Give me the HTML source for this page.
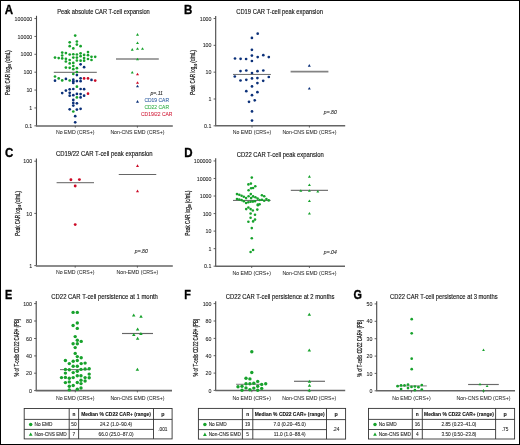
<!DOCTYPE html>
<html><head><meta charset="utf-8"><title>CAR T-cell expansion figure</title>
<style>html,body{margin:0;padding:0;background:#fff;}body{width:520px;height:445px;overflow:hidden;font-family:"Liberation Sans",sans-serif;}svg{display:block;will-change:transform;}</style>
</head><body>
<svg width="520" height="445" viewBox="0 0 520 445" font-family="'Liberation Sans', sans-serif">
<rect x="0" y="0" width="520" height="445" fill="#fff"/>
<text x="4.80" y="13.50" font-size="12.8" text-anchor="start" font-weight="bold" font-style="normal" fill="#000" stroke="#000" stroke-width="0.35" textLength="8.32" lengthAdjust="spacingAndGlyphs" >A</text>
<text x="103.50" y="13.60" font-size="6.4" text-anchor="middle" font-weight="normal" font-style="normal" fill="#111" stroke="#111" stroke-width="0.12" textLength="92.60" lengthAdjust="spacingAndGlyphs" >Peak absolute CAR T-cell expansion</text>
<line x1="36.50" y1="15.80" x2="36.50" y2="125.80" stroke="#474747" stroke-width="1.1"/>
<line x1="34.40" y1="18.55" x2="36.50" y2="18.55" stroke="#474747" stroke-width="0.85"/>
<text x="32.30" y="20.65" font-size="5.9" text-anchor="end" font-weight="normal" font-style="normal" fill="#222" stroke="#222" stroke-width="0.08" textLength="17.72" lengthAdjust="spacingAndGlyphs" >100000</text>
<line x1="34.40" y1="36.43" x2="36.50" y2="36.43" stroke="#474747" stroke-width="0.85"/>
<text x="32.30" y="38.53" font-size="5.9" text-anchor="end" font-weight="normal" font-style="normal" fill="#222" stroke="#222" stroke-width="0.08" textLength="14.76" lengthAdjust="spacingAndGlyphs" >10000</text>
<line x1="34.40" y1="54.31" x2="36.50" y2="54.31" stroke="#474747" stroke-width="0.85"/>
<text x="32.30" y="56.41" font-size="5.9" text-anchor="end" font-weight="normal" font-style="normal" fill="#222" stroke="#222" stroke-width="0.08" textLength="11.81" lengthAdjust="spacingAndGlyphs" >1000</text>
<line x1="34.40" y1="72.19" x2="36.50" y2="72.19" stroke="#474747" stroke-width="0.85"/>
<text x="32.30" y="74.29" font-size="5.9" text-anchor="end" font-weight="normal" font-style="normal" fill="#222" stroke="#222" stroke-width="0.08" textLength="8.86" lengthAdjust="spacingAndGlyphs" >100</text>
<line x1="34.40" y1="90.07" x2="36.50" y2="90.07" stroke="#474747" stroke-width="0.85"/>
<text x="32.30" y="92.17" font-size="5.9" text-anchor="end" font-weight="normal" font-style="normal" fill="#222" stroke="#222" stroke-width="0.08" textLength="5.91" lengthAdjust="spacingAndGlyphs" >10</text>
<line x1="34.40" y1="107.95" x2="36.50" y2="107.95" stroke="#474747" stroke-width="0.85"/>
<text x="32.30" y="110.05" font-size="5.9" text-anchor="end" font-weight="normal" font-style="normal" fill="#222" stroke="#222" stroke-width="0.08" textLength="2.95" lengthAdjust="spacingAndGlyphs" >1</text>
<line x1="34.40" y1="125.83" x2="36.50" y2="125.83" stroke="#474747" stroke-width="0.85"/>
<text x="32.30" y="127.93" font-size="5.9" text-anchor="end" font-weight="normal" font-style="normal" fill="#222" stroke="#222" stroke-width="0.08" textLength="7.38" lengthAdjust="spacingAndGlyphs" >0.1</text>
<line x1="36.00" y1="125.90" x2="172.80" y2="125.90" stroke="#646464" stroke-width="1.55"/>
<line x1="75.30" y1="125.90" x2="75.30" y2="127.70" stroke="#474747" stroke-width="0.8"/>
<text x="75.30" y="134.40" font-size="5.2" text-anchor="middle" font-weight="normal" font-style="normal" fill="#222" stroke="#222" stroke-width="0.03" >No EMD (CRS+)</text>
<line x1="137.40" y1="125.90" x2="137.40" y2="127.70" stroke="#474747" stroke-width="0.8"/>
<text x="137.40" y="134.40" font-size="5.2" text-anchor="middle" font-weight="normal" font-style="normal" fill="#222" stroke="#222" stroke-width="0.03" >Non-CNS EMD (CRS+)</text>
<g transform="translate(10.00,72.60) rotate(-90)">
<text x="-22.40" y="0" font-size="6.3" text-anchor="start" fill="#111" stroke="#111" stroke-width="0.2" textLength="44.8" lengthAdjust="spacingAndGlyphs">Peak CAR log<tspan font-size="3.6" dy="1.2">10</tspan><tspan dy="-1.2"> (c/mL)</tspan></text>
</g>
<line x1="53.80" y1="72.30" x2="96.80" y2="72.30" stroke="#5e5e5e" stroke-width="1.0"/>
<line x1="116.00" y1="59.00" x2="158.80" y2="59.00" stroke="#838383" stroke-width="1.7"/>
<circle cx="75.20" cy="35.60" r="1.35" fill="#17a22c"/>
<circle cx="69.70" cy="42.30" r="1.35" fill="#17a22c"/>
<circle cx="76.90" cy="41.50" r="1.35" fill="#17a22c"/>
<circle cx="76.90" cy="44.60" r="1.35" fill="#17a22c"/>
<circle cx="69.70" cy="46.20" r="1.35" fill="#17a22c"/>
<circle cx="80.60" cy="46.20" r="1.35" fill="#17a22c"/>
<circle cx="73.30" cy="48.40" r="1.35" fill="#17a22c"/>
<circle cx="62.20" cy="52.60" r="1.35" fill="#17a22c"/>
<circle cx="65.90" cy="53.10" r="1.35" fill="#17a22c"/>
<circle cx="69.70" cy="54.50" r="1.35" fill="#17a22c"/>
<circle cx="73.30" cy="54.25" r="1.35" fill="#17a22c"/>
<circle cx="76.90" cy="54.50" r="1.35" fill="#17a22c"/>
<circle cx="80.60" cy="53.30" r="1.35" fill="#17a22c"/>
<circle cx="84.10" cy="54.90" r="1.35" fill="#17a22c"/>
<circle cx="88.00" cy="52.10" r="1.35" fill="#17a22c"/>
<circle cx="62.20" cy="55.50" r="1.35" fill="#17a22c"/>
<circle cx="80.60" cy="56.20" r="1.35" fill="#17a22c"/>
<circle cx="88.00" cy="55.20" r="1.35" fill="#17a22c"/>
<circle cx="91.50" cy="56.80" r="1.35" fill="#17a22c"/>
<circle cx="95.20" cy="56.80" r="1.35" fill="#17a22c"/>
<circle cx="55.00" cy="57.60" r="1.35" fill="#17a22c"/>
<circle cx="58.70" cy="58.10" r="1.35" fill="#17a22c"/>
<circle cx="62.20" cy="58.40" r="1.35" fill="#17a22c"/>
<circle cx="65.90" cy="58.80" r="1.35" fill="#17a22c"/>
<circle cx="73.30" cy="57.60" r="1.35" fill="#17a22c"/>
<circle cx="76.90" cy="57.60" r="1.35" fill="#17a22c"/>
<circle cx="84.10" cy="58.10" r="1.35" fill="#17a22c"/>
<circle cx="88.00" cy="59.00" r="1.35" fill="#17a22c"/>
<circle cx="91.50" cy="60.00" r="1.35" fill="#17a22c"/>
<circle cx="65.90" cy="61.50" r="1.35" fill="#17a22c"/>
<circle cx="69.70" cy="60.00" r="1.35" fill="#17a22c"/>
<circle cx="76.90" cy="60.50" r="1.35" fill="#17a22c"/>
<circle cx="80.60" cy="60.70" r="1.35" fill="#17a22c"/>
<circle cx="84.10" cy="60.70" r="1.35" fill="#17a22c"/>
<circle cx="69.70" cy="63.40" r="1.35" fill="#17a22c"/>
<circle cx="73.30" cy="62.90" r="1.35" fill="#17a22c"/>
<circle cx="73.30" cy="66.00" r="1.35" fill="#17a22c"/>
<circle cx="65.90" cy="67.60" r="1.35" fill="#17a22c"/>
<circle cx="69.70" cy="67.80" r="1.35" fill="#17a22c"/>
<circle cx="76.90" cy="68.20" r="1.35" fill="#17a22c"/>
<circle cx="73.30" cy="69.20" r="1.35" fill="#17a22c"/>
<circle cx="76.90" cy="72.10" r="1.35" fill="#17a22c"/>
<circle cx="73.30" cy="74.00" r="1.35" fill="#17a22c"/>
<circle cx="55.00" cy="76.50" r="1.35" fill="#17a22c"/>
<circle cx="58.70" cy="78.40" r="1.35" fill="#17a22c"/>
<circle cx="62.20" cy="80.40" r="1.35" fill="#17a22c"/>
<circle cx="69.70" cy="80.50" r="1.35" fill="#17a22c"/>
<circle cx="76.90" cy="86.70" r="1.35" fill="#17a22c"/>
<circle cx="76.90" cy="97.40" r="1.35" fill="#17a22c"/>
<circle cx="73.30" cy="111.50" r="1.35" fill="#17a22c"/>
<circle cx="80.60" cy="64.30" r="1.35" fill="#0b3079"/>
<circle cx="84.10" cy="67.20" r="1.35" fill="#0b3079"/>
<circle cx="76.90" cy="75.10" r="1.35" fill="#0b3079"/>
<circle cx="55.00" cy="80.70" r="1.35" fill="#0b3079"/>
<circle cx="65.90" cy="78.90" r="1.35" fill="#0b3079"/>
<circle cx="73.30" cy="79.70" r="1.35" fill="#0b3079"/>
<circle cx="73.30" cy="81.30" r="1.35" fill="#0b3079"/>
<circle cx="73.30" cy="82.90" r="1.35" fill="#0b3079"/>
<circle cx="76.90" cy="81.10" r="1.35" fill="#0b3079"/>
<circle cx="80.60" cy="78.30" r="1.35" fill="#0b3079"/>
<circle cx="80.60" cy="81.20" r="1.35" fill="#0b3079"/>
<circle cx="91.50" cy="79.90" r="1.35" fill="#0b3079"/>
<circle cx="62.20" cy="93.10" r="1.35" fill="#0b3079"/>
<circle cx="65.90" cy="90.60" r="1.35" fill="#0b3079"/>
<circle cx="69.70" cy="89.30" r="1.35" fill="#0b3079"/>
<circle cx="69.70" cy="92.80" r="1.35" fill="#0b3079"/>
<circle cx="69.70" cy="95.70" r="1.35" fill="#0b3079"/>
<circle cx="73.30" cy="89.00" r="1.35" fill="#0b3079"/>
<circle cx="73.30" cy="95.20" r="1.35" fill="#0b3079"/>
<circle cx="76.90" cy="93.90" r="1.35" fill="#0b3079"/>
<circle cx="80.60" cy="89.00" r="1.35" fill="#0b3079"/>
<circle cx="80.60" cy="94.10" r="1.35" fill="#0b3079"/>
<circle cx="80.60" cy="97.40" r="1.35" fill="#0b3079"/>
<circle cx="84.10" cy="89.20" r="1.35" fill="#0b3079"/>
<circle cx="84.10" cy="95.70" r="1.35" fill="#0b3079"/>
<circle cx="73.30" cy="99.90" r="1.35" fill="#0b3079"/>
<circle cx="73.30" cy="102.90" r="1.35" fill="#0b3079"/>
<circle cx="73.30" cy="105.60" r="1.35" fill="#0b3079"/>
<circle cx="76.90" cy="103.30" r="1.35" fill="#0b3079"/>
<circle cx="69.70" cy="109.30" r="1.35" fill="#0b3079"/>
<circle cx="76.90" cy="109.60" r="1.35" fill="#0b3079"/>
<circle cx="80.60" cy="108.80" r="1.35" fill="#0b3079"/>
<circle cx="75.20" cy="116.20" r="1.35" fill="#0b3079"/>
<circle cx="75.20" cy="122.30" r="1.35" fill="#0b3079"/>
<circle cx="84.10" cy="78.40" r="1.35" fill="#cc0a26"/>
<circle cx="88.00" cy="78.40" r="1.35" fill="#cc0a26"/>
<circle cx="95.20" cy="80.60" r="1.35" fill="#cc0a26"/>
<circle cx="88.00" cy="93.70" r="1.35" fill="#cc0a26"/>
<polygon points="136.00,35.70 139.00,35.70 137.50,33.09" fill="#17a22c"/>
<polygon points="136.00,44.05 139.00,44.05 137.50,41.45" fill="#17a22c"/>
<polygon points="130.75,50.70 133.75,50.70 132.25,48.09" fill="#17a22c"/>
<polygon points="136.00,49.80 139.00,49.80 137.50,47.20" fill="#17a22c"/>
<polygon points="141.00,49.80 144.00,49.80 142.50,47.20" fill="#17a22c"/>
<polygon points="136.00,60.30 139.00,60.30 137.50,57.70" fill="#17a22c"/>
<polygon points="130.75,73.56 133.75,73.56 132.25,70.94" fill="#17a22c"/>
<polygon points="136.00,75.31 139.00,75.31 137.50,72.69" fill="#cc0a26"/>
<polygon points="136.00,83.81 139.00,83.81 137.50,81.19" fill="#cc0a26"/>
<polygon points="136.00,87.31 139.00,87.31 137.50,84.69" fill="#0b3079"/>
<polygon points="136.00,102.71 139.00,102.71 137.50,100.09" fill="#0b3079"/>
<text x="156.70" y="95.00" font-size="5.1" text-anchor="middle" font-weight="normal" font-style="italic" fill="#222" stroke="#222" stroke-width="0.08" >p=.11</text>
<text x="156.70" y="101.90" font-size="5.4" text-anchor="middle" font-weight="normal" font-style="normal" fill="#2a5aa0" stroke="#2a5aa0" stroke-width="0.08" textLength="24.57" lengthAdjust="spacingAndGlyphs" >CD19 CAR</text>
<text x="156.70" y="108.80" font-size="5.4" text-anchor="middle" font-weight="normal" font-style="normal" fill="#2eae44" stroke="#2eae44" stroke-width="0.08" textLength="24.57" lengthAdjust="spacingAndGlyphs" >CD22 CAR</text>
<text x="156.70" y="116.10" font-size="5.4" text-anchor="middle" font-weight="normal" font-style="normal" fill="#d2203c" stroke="#d2203c" stroke-width="0.08" textLength="31.48" lengthAdjust="spacingAndGlyphs" >CD19/22 CAR</text>
<text x="184.00" y="13.50" font-size="12.8" text-anchor="start" font-weight="bold" font-style="normal" fill="#000" stroke="#000" stroke-width="0.35" textLength="8.32" lengthAdjust="spacingAndGlyphs" >B</text>
<text x="279.55" y="13.60" font-size="6.4" text-anchor="middle" font-weight="normal" font-style="normal" fill="#111" stroke="#111" stroke-width="0.12" textLength="86.70" lengthAdjust="spacingAndGlyphs" >CD19 CAR T-cell peak expansion</text>
<line x1="215.70" y1="16.00" x2="215.70" y2="125.80" stroke="#474747" stroke-width="1.1"/>
<line x1="213.60" y1="18.50" x2="215.70" y2="18.50" stroke="#474747" stroke-width="0.85"/>
<text x="211.50" y="20.60" font-size="5.9" text-anchor="end" font-weight="normal" font-style="normal" fill="#222" stroke="#222" stroke-width="0.08" textLength="11.81" lengthAdjust="spacingAndGlyphs" >1000</text>
<line x1="213.60" y1="45.33" x2="215.70" y2="45.33" stroke="#474747" stroke-width="0.85"/>
<text x="211.50" y="47.43" font-size="5.9" text-anchor="end" font-weight="normal" font-style="normal" fill="#222" stroke="#222" stroke-width="0.08" textLength="8.86" lengthAdjust="spacingAndGlyphs" >100</text>
<line x1="213.60" y1="72.16" x2="215.70" y2="72.16" stroke="#474747" stroke-width="0.85"/>
<text x="211.50" y="74.26" font-size="5.9" text-anchor="end" font-weight="normal" font-style="normal" fill="#222" stroke="#222" stroke-width="0.08" textLength="5.91" lengthAdjust="spacingAndGlyphs" >10</text>
<line x1="213.60" y1="98.99" x2="215.70" y2="98.99" stroke="#474747" stroke-width="0.85"/>
<text x="211.50" y="101.09" font-size="5.9" text-anchor="end" font-weight="normal" font-style="normal" fill="#222" stroke="#222" stroke-width="0.08" textLength="2.95" lengthAdjust="spacingAndGlyphs" >1</text>
<line x1="213.60" y1="125.82" x2="215.70" y2="125.82" stroke="#474747" stroke-width="0.85"/>
<text x="211.50" y="127.92" font-size="5.9" text-anchor="end" font-weight="normal" font-style="normal" fill="#222" stroke="#222" stroke-width="0.08" textLength="7.38" lengthAdjust="spacingAndGlyphs" >0.1</text>
<line x1="215.20" y1="125.80" x2="345.20" y2="125.80" stroke="#646464" stroke-width="1.55"/>
<line x1="252.00" y1="125.80" x2="252.00" y2="127.60" stroke="#474747" stroke-width="0.8"/>
<text x="252.00" y="134.40" font-size="5.2" text-anchor="middle" font-weight="normal" font-style="normal" fill="#222" stroke="#222" stroke-width="0.03" >No EMD (CRS+)</text>
<line x1="309.40" y1="125.80" x2="309.40" y2="127.60" stroke="#474747" stroke-width="0.8"/>
<text x="309.40" y="134.40" font-size="5.2" text-anchor="middle" font-weight="normal" font-style="normal" fill="#222" stroke="#222" stroke-width="0.03" >Non-CNS EMD (CRS+)</text>
<g transform="translate(195.40,72.45) rotate(-90)">
<text x="-22.40" y="0" font-size="6.3" text-anchor="start" fill="#111" stroke="#111" stroke-width="0.2" textLength="44.8" lengthAdjust="spacingAndGlyphs">Peak CAR log<tspan font-size="3.6" dy="1.2">10</tspan><tspan dy="-1.2"> (c/mL)</tspan></text>
</g>
<line x1="233.00" y1="74.45" x2="270.90" y2="74.45" stroke="#6e6e6e" stroke-width="1.0"/>
<line x1="290.60" y1="71.70" x2="328.40" y2="71.70" stroke="#838383" stroke-width="1.7"/>
<circle cx="257.70" cy="33.65" r="1.35" fill="#0b3079"/>
<circle cx="251.90" cy="37.90" r="1.35" fill="#0b3079"/>
<circle cx="251.90" cy="49.80" r="1.35" fill="#0b3079"/>
<circle cx="251.90" cy="55.60" r="1.35" fill="#0b3079"/>
<circle cx="257.70" cy="57.10" r="1.35" fill="#0b3079"/>
<circle cx="263.30" cy="55.20" r="1.35" fill="#0b3079"/>
<circle cx="268.80" cy="57.10" r="1.35" fill="#0b3079"/>
<circle cx="235.00" cy="58.50" r="1.35" fill="#0b3079"/>
<circle cx="240.60" cy="58.80" r="1.35" fill="#0b3079"/>
<circle cx="246.10" cy="59.00" r="1.35" fill="#0b3079"/>
<circle cx="251.90" cy="61.00" r="1.35" fill="#0b3079"/>
<circle cx="240.50" cy="71.10" r="1.35" fill="#0b3079"/>
<circle cx="246.30" cy="70.50" r="1.35" fill="#0b3079"/>
<circle cx="252.00" cy="73.00" r="1.35" fill="#0b3079"/>
<circle cx="257.50" cy="71.20" r="1.35" fill="#0b3079"/>
<circle cx="263.30" cy="70.50" r="1.35" fill="#0b3079"/>
<circle cx="234.80" cy="76.50" r="1.35" fill="#0b3079"/>
<circle cx="268.80" cy="77.00" r="1.35" fill="#0b3079"/>
<circle cx="240.50" cy="80.50" r="1.35" fill="#0b3079"/>
<circle cx="246.30" cy="79.80" r="1.35" fill="#0b3079"/>
<circle cx="252.00" cy="78.40" r="1.35" fill="#0b3079"/>
<circle cx="257.40" cy="78.10" r="1.35" fill="#0b3079"/>
<circle cx="263.20" cy="80.80" r="1.35" fill="#0b3079"/>
<circle cx="257.40" cy="83.10" r="1.35" fill="#0b3079"/>
<circle cx="252.00" cy="86.40" r="1.35" fill="#0b3079"/>
<circle cx="246.30" cy="91.20" r="1.35" fill="#0b3079"/>
<circle cx="257.40" cy="92.20" r="1.35" fill="#0b3079"/>
<circle cx="252.00" cy="95.20" r="1.35" fill="#0b3079"/>
<circle cx="249.00" cy="101.80" r="1.35" fill="#0b3079"/>
<circle cx="254.70" cy="100.30" r="1.35" fill="#0b3079"/>
<circle cx="252.00" cy="111.40" r="1.35" fill="#0b3079"/>
<circle cx="252.00" cy="120.60" r="1.35" fill="#0b3079"/>
<polygon points="307.80,66.71 310.80,66.71 309.30,64.09" fill="#0b3079"/>
<polygon points="307.80,89.61 310.80,89.61 309.30,86.99" fill="#0b3079"/>
<text x="330.30" y="113.80" font-size="5.1" text-anchor="middle" font-weight="normal" font-style="italic" fill="#222" stroke="#222" stroke-width="0.08" >p=.80</text>
<text x="4.90" y="156.60" font-size="12.8" text-anchor="start" font-weight="bold" font-style="normal" fill="#000" stroke="#000" stroke-width="0.35" textLength="8.32" lengthAdjust="spacingAndGlyphs" >C</text>
<text x="104.25" y="156.40" font-size="6.4" text-anchor="middle" font-weight="normal" font-style="normal" fill="#111" stroke="#111" stroke-width="0.12" textLength="96.70" lengthAdjust="spacingAndGlyphs" >CD19/22 CAR T-cell peak expansion</text>
<line x1="36.40" y1="158.40" x2="36.40" y2="265.60" stroke="#474747" stroke-width="1.1"/>
<line x1="34.30" y1="161.20" x2="36.40" y2="161.20" stroke="#474747" stroke-width="0.85"/>
<text x="32.20" y="163.30" font-size="5.9" text-anchor="end" font-weight="normal" font-style="normal" fill="#222" stroke="#222" stroke-width="0.08" textLength="8.86" lengthAdjust="spacingAndGlyphs" >100</text>
<line x1="34.30" y1="213.40" x2="36.40" y2="213.40" stroke="#474747" stroke-width="0.85"/>
<text x="32.20" y="215.50" font-size="5.9" text-anchor="end" font-weight="normal" font-style="normal" fill="#222" stroke="#222" stroke-width="0.08" textLength="5.91" lengthAdjust="spacingAndGlyphs" >10</text>
<line x1="34.30" y1="265.60" x2="36.40" y2="265.60" stroke="#474747" stroke-width="0.85"/>
<text x="32.20" y="267.70" font-size="5.9" text-anchor="end" font-weight="normal" font-style="normal" fill="#222" stroke="#222" stroke-width="0.08" textLength="2.95" lengthAdjust="spacingAndGlyphs" >1</text>
<line x1="35.90" y1="265.90" x2="172.80" y2="265.90" stroke="#646464" stroke-width="1.55"/>
<line x1="75.20" y1="265.90" x2="75.20" y2="267.70" stroke="#474747" stroke-width="0.8"/>
<text x="75.20" y="274.40" font-size="5.2" text-anchor="middle" font-weight="normal" font-style="normal" fill="#222" stroke="#222" stroke-width="0.03" >No EMD (CRS+)</text>
<line x1="137.40" y1="265.90" x2="137.40" y2="267.70" stroke="#474747" stroke-width="0.8"/>
<text x="137.40" y="274.40" font-size="5.2" text-anchor="middle" font-weight="normal" font-style="normal" fill="#222" stroke="#222" stroke-width="0.03" >Non-EMD (CRS+)</text>
<g transform="translate(19.80,213.40) rotate(-90)">
<text x="-22.40" y="0" font-size="6.3" text-anchor="start" fill="#111" stroke="#111" stroke-width="0.2" textLength="44.8" lengthAdjust="spacingAndGlyphs">Peak CAR log<tspan font-size="3.6" dy="1.2">10</tspan><tspan dy="-1.2"> (c/mL)</tspan></text>
</g>
<line x1="56.60" y1="182.70" x2="94.00" y2="182.70" stroke="#808080" stroke-width="1.3"/>
<line x1="118.75" y1="174.50" x2="156.25" y2="174.50" stroke="#666" stroke-width="1.2"/>
<circle cx="70.90" cy="179.80" r="1.45" fill="#cc0a26"/>
<circle cx="79.40" cy="179.60" r="1.45" fill="#cc0a26"/>
<circle cx="75.20" cy="186.00" r="1.45" fill="#cc0a26"/>
<circle cx="75.20" cy="224.60" r="1.45" fill="#cc0a26"/>
<polygon points="136.00,166.91 139.00,166.91 137.50,164.29" fill="#cc0a26"/>
<polygon points="136.00,192.21 139.00,192.21 137.50,189.59" fill="#cc0a26"/>
<text x="141.30" y="252.80" font-size="5.1" text-anchor="middle" font-weight="normal" font-style="italic" fill="#222" stroke="#222" stroke-width="0.08" >p=.80</text>
<text x="184.20" y="156.60" font-size="12.8" text-anchor="start" font-weight="bold" font-style="normal" fill="#000" stroke="#000" stroke-width="0.35" textLength="8.32" lengthAdjust="spacingAndGlyphs" >D</text>
<text x="280.20" y="157.00" font-size="6.4" text-anchor="middle" font-weight="normal" font-style="normal" fill="#111" stroke="#111" stroke-width="0.12" textLength="87.00" lengthAdjust="spacingAndGlyphs" >CD22 CAR T-cell peak expansion</text>
<line x1="215.70" y1="158.20" x2="215.70" y2="266.20" stroke="#474747" stroke-width="1.1"/>
<line x1="213.60" y1="160.95" x2="215.70" y2="160.95" stroke="#474747" stroke-width="0.85"/>
<text x="211.50" y="163.05" font-size="5.9" text-anchor="end" font-weight="normal" font-style="normal" fill="#222" stroke="#222" stroke-width="0.08" textLength="17.72" lengthAdjust="spacingAndGlyphs" >100000</text>
<line x1="213.60" y1="178.49" x2="215.70" y2="178.49" stroke="#474747" stroke-width="0.85"/>
<text x="211.50" y="180.59" font-size="5.9" text-anchor="end" font-weight="normal" font-style="normal" fill="#222" stroke="#222" stroke-width="0.08" textLength="14.76" lengthAdjust="spacingAndGlyphs" >10000</text>
<line x1="213.60" y1="196.03" x2="215.70" y2="196.03" stroke="#474747" stroke-width="0.85"/>
<text x="211.50" y="198.13" font-size="5.9" text-anchor="end" font-weight="normal" font-style="normal" fill="#222" stroke="#222" stroke-width="0.08" textLength="11.81" lengthAdjust="spacingAndGlyphs" >1000</text>
<line x1="213.60" y1="213.57" x2="215.70" y2="213.57" stroke="#474747" stroke-width="0.85"/>
<text x="211.50" y="215.67" font-size="5.9" text-anchor="end" font-weight="normal" font-style="normal" fill="#222" stroke="#222" stroke-width="0.08" textLength="8.86" lengthAdjust="spacingAndGlyphs" >100</text>
<line x1="213.60" y1="231.11" x2="215.70" y2="231.11" stroke="#474747" stroke-width="0.85"/>
<text x="211.50" y="233.21" font-size="5.9" text-anchor="end" font-weight="normal" font-style="normal" fill="#222" stroke="#222" stroke-width="0.08" textLength="5.91" lengthAdjust="spacingAndGlyphs" >10</text>
<line x1="213.60" y1="248.65" x2="215.70" y2="248.65" stroke="#474747" stroke-width="0.85"/>
<text x="211.50" y="250.75" font-size="5.9" text-anchor="end" font-weight="normal" font-style="normal" fill="#222" stroke="#222" stroke-width="0.08" textLength="2.95" lengthAdjust="spacingAndGlyphs" >1</text>
<line x1="213.60" y1="266.19" x2="215.70" y2="266.19" stroke="#474747" stroke-width="0.85"/>
<text x="211.50" y="268.29" font-size="5.9" text-anchor="end" font-weight="normal" font-style="normal" fill="#222" stroke="#222" stroke-width="0.08" textLength="7.38" lengthAdjust="spacingAndGlyphs" >0.1</text>
<line x1="215.20" y1="266.20" x2="345.00" y2="266.20" stroke="#646464" stroke-width="1.55"/>
<line x1="251.70" y1="266.20" x2="251.70" y2="268.00" stroke="#474747" stroke-width="0.8"/>
<text x="251.70" y="274.70" font-size="5.2" text-anchor="middle" font-weight="normal" font-style="normal" fill="#222" stroke="#222" stroke-width="0.03" >No EMD (CRS+)</text>
<line x1="309.40" y1="266.20" x2="309.40" y2="268.00" stroke="#474747" stroke-width="0.8"/>
<text x="309.40" y="274.70" font-size="5.2" text-anchor="middle" font-weight="normal" font-style="normal" fill="#222" stroke="#222" stroke-width="0.03" >Non-CNS EMD (CRS+)</text>
<g transform="translate(189.80,213.00) rotate(-90)">
<text x="-22.40" y="0" font-size="6.3" text-anchor="start" fill="#111" stroke="#111" stroke-width="0.2" textLength="44.8" lengthAdjust="spacingAndGlyphs">Peak CAR log<tspan font-size="3.6" dy="1.2">10</tspan><tspan dy="-1.2"> (c/mL)</tspan></text>
</g>
<line x1="233.00" y1="200.40" x2="270.60" y2="200.40" stroke="#5e5e5e" stroke-width="1.0"/>
<circle cx="251.80" cy="177.60" r="1.3" fill="#17a22c"/>
<circle cx="248.40" cy="184.40" r="1.3" fill="#17a22c"/>
<circle cx="250.90" cy="183.60" r="1.3" fill="#17a22c"/>
<circle cx="251.10" cy="188.20" r="1.3" fill="#17a22c"/>
<circle cx="253.10" cy="188.00" r="1.3" fill="#17a22c"/>
<circle cx="255.30" cy="186.30" r="1.3" fill="#17a22c"/>
<circle cx="248.60" cy="190.30" r="1.3" fill="#17a22c"/>
<circle cx="237.00" cy="194.10" r="1.3" fill="#17a22c"/>
<circle cx="239.30" cy="194.80" r="1.3" fill="#17a22c"/>
<circle cx="241.60" cy="195.70" r="1.3" fill="#17a22c"/>
<circle cx="243.80" cy="196.80" r="1.3" fill="#17a22c"/>
<circle cx="246.10" cy="198.10" r="1.3" fill="#17a22c"/>
<circle cx="250.80" cy="194.10" r="1.3" fill="#17a22c"/>
<circle cx="248.60" cy="196.20" r="1.3" fill="#17a22c"/>
<circle cx="251.10" cy="198.10" r="1.3" fill="#17a22c"/>
<circle cx="253.10" cy="196.40" r="1.3" fill="#17a22c"/>
<circle cx="255.40" cy="197.20" r="1.3" fill="#17a22c"/>
<circle cx="257.60" cy="198.60" r="1.3" fill="#17a22c"/>
<circle cx="261.90" cy="195.20" r="1.3" fill="#17a22c"/>
<circle cx="264.20" cy="196.20" r="1.3" fill="#17a22c"/>
<circle cx="266.40" cy="199.00" r="1.3" fill="#17a22c"/>
<circle cx="237.00" cy="199.00" r="1.3" fill="#17a22c"/>
<circle cx="239.30" cy="199.50" r="1.3" fill="#17a22c"/>
<circle cx="241.60" cy="200.10" r="1.3" fill="#17a22c"/>
<circle cx="243.80" cy="201.30" r="1.3" fill="#17a22c"/>
<circle cx="246.10" cy="203.00" r="1.3" fill="#17a22c"/>
<circle cx="248.30" cy="202.20" r="1.3" fill="#17a22c"/>
<circle cx="250.60" cy="201.80" r="1.3" fill="#17a22c"/>
<circle cx="252.90" cy="201.60" r="1.3" fill="#17a22c"/>
<circle cx="255.10" cy="201.30" r="1.3" fill="#17a22c"/>
<circle cx="259.60" cy="200.00" r="1.3" fill="#17a22c"/>
<circle cx="261.90" cy="199.80" r="1.3" fill="#17a22c"/>
<circle cx="264.20" cy="200.80" r="1.3" fill="#17a22c"/>
<circle cx="268.70" cy="200.40" r="1.3" fill="#17a22c"/>
<circle cx="257.80" cy="204.50" r="1.3" fill="#17a22c"/>
<circle cx="259.60" cy="204.30" r="1.3" fill="#17a22c"/>
<circle cx="246.20" cy="209.10" r="1.3" fill="#17a22c"/>
<circle cx="248.40" cy="207.50" r="1.3" fill="#17a22c"/>
<circle cx="250.60" cy="209.10" r="1.3" fill="#17a22c"/>
<circle cx="252.80" cy="210.50" r="1.3" fill="#17a22c"/>
<circle cx="257.30" cy="209.60" r="1.3" fill="#17a22c"/>
<circle cx="257.90" cy="205.30" r="1.3" fill="#17a22c"/>
<circle cx="250.60" cy="213.50" r="1.3" fill="#17a22c"/>
<circle cx="255.00" cy="214.70" r="1.3" fill="#17a22c"/>
<circle cx="250.60" cy="217.80" r="1.3" fill="#17a22c"/>
<circle cx="248.40" cy="221.80" r="1.3" fill="#17a22c"/>
<circle cx="253.10" cy="221.40" r="1.3" fill="#17a22c"/>
<circle cx="255.00" cy="219.60" r="1.3" fill="#17a22c"/>
<circle cx="251.80" cy="228.10" r="1.3" fill="#17a22c"/>
<circle cx="251.80" cy="238.30" r="1.3" fill="#17a22c"/>
<circle cx="250.60" cy="252.00" r="1.3" fill="#17a22c"/>
<circle cx="253.10" cy="250.00" r="1.3" fill="#17a22c"/>
<line x1="290.80" y1="190.35" x2="328.00" y2="190.35" stroke="#777" stroke-width="1.45"/>
<polygon points="307.90,177.71 310.90,177.71 309.40,175.09" fill="#17a22c"/>
<polygon points="307.90,186.00 310.90,186.00 309.40,183.39" fill="#17a22c"/>
<polygon points="299.30,191.81 302.30,191.81 300.80,189.19" fill="#17a22c"/>
<polygon points="307.90,191.81 310.90,191.81 309.40,189.19" fill="#17a22c"/>
<polygon points="316.30,192.61 319.30,192.61 317.80,190.00" fill="#17a22c"/>
<polygon points="307.90,202.11 310.90,202.11 309.40,199.50" fill="#17a22c"/>
<polygon points="307.90,214.50 310.90,214.50 309.40,211.89" fill="#17a22c"/>
<text x="330.30" y="254.00" font-size="5.1" text-anchor="middle" font-weight="normal" font-style="italic" fill="#222" stroke="#222" stroke-width="0.08" >p=.04</text>
<text x="4.90" y="298.80" font-size="12.0" text-anchor="start" font-weight="bold" font-style="normal" fill="#000" stroke="#000" stroke-width="0.35" textLength="7.20" lengthAdjust="spacingAndGlyphs" >E</text>
<text x="104.60" y="299.00" font-size="6.4" text-anchor="middle" font-weight="normal" font-style="normal" fill="#111" stroke="#111" stroke-width="0.12" textLength="106.60" lengthAdjust="spacingAndGlyphs" >CD22 CAR T-cell persistence at 1 month</text>
<line x1="36.20" y1="301.00" x2="36.20" y2="390.60" stroke="#474747" stroke-width="1.1"/>
<line x1="34.10" y1="303.60" x2="36.20" y2="303.60" stroke="#474747" stroke-width="0.85"/>
<text x="32.00" y="305.70" font-size="5.9" text-anchor="end" font-weight="normal" font-style="normal" fill="#222" stroke="#222" stroke-width="0.08" textLength="8.86" lengthAdjust="spacingAndGlyphs" >100</text>
<line x1="34.10" y1="321.00" x2="36.20" y2="321.00" stroke="#474747" stroke-width="0.85"/>
<text x="32.00" y="323.10" font-size="5.9" text-anchor="end" font-weight="normal" font-style="normal" fill="#222" stroke="#222" stroke-width="0.08" textLength="5.91" lengthAdjust="spacingAndGlyphs" >80</text>
<line x1="34.10" y1="338.50" x2="36.20" y2="338.50" stroke="#474747" stroke-width="0.85"/>
<text x="32.00" y="340.60" font-size="5.9" text-anchor="end" font-weight="normal" font-style="normal" fill="#222" stroke="#222" stroke-width="0.08" textLength="5.91" lengthAdjust="spacingAndGlyphs" >60</text>
<line x1="34.10" y1="355.90" x2="36.20" y2="355.90" stroke="#474747" stroke-width="0.85"/>
<text x="32.00" y="358.00" font-size="5.9" text-anchor="end" font-weight="normal" font-style="normal" fill="#222" stroke="#222" stroke-width="0.08" textLength="5.91" lengthAdjust="spacingAndGlyphs" >40</text>
<line x1="34.10" y1="373.20" x2="36.20" y2="373.20" stroke="#474747" stroke-width="0.85"/>
<text x="32.00" y="375.30" font-size="5.9" text-anchor="end" font-weight="normal" font-style="normal" fill="#222" stroke="#222" stroke-width="0.08" textLength="5.91" lengthAdjust="spacingAndGlyphs" >20</text>
<line x1="34.10" y1="390.60" x2="36.20" y2="390.60" stroke="#474747" stroke-width="0.85"/>
<text x="32.00" y="392.70" font-size="5.9" text-anchor="end" font-weight="normal" font-style="normal" fill="#222" stroke="#222" stroke-width="0.08" textLength="2.95" lengthAdjust="spacingAndGlyphs" >0</text>
<line x1="35.70" y1="390.60" x2="172.00" y2="390.60" stroke="#646464" stroke-width="1.55"/>
<line x1="75.30" y1="390.60" x2="75.30" y2="392.40" stroke="#474747" stroke-width="0.8"/>
<text x="75.30" y="400.20" font-size="5.2" text-anchor="middle" font-weight="normal" font-style="normal" fill="#222" stroke="#222" stroke-width="0.03" >No EMD (CRS+)</text>
<line x1="137.40" y1="390.60" x2="137.40" y2="392.40" stroke="#474747" stroke-width="0.8"/>
<text x="137.40" y="400.20" font-size="5.2" text-anchor="middle" font-weight="normal" font-style="normal" fill="#222" stroke="#222" stroke-width="0.03" >Non-CNS EMD (CRS+)</text>
<g transform="translate(19.00,347.60) rotate(-90)">
<text x="-28.90" y="0" font-size="6.4" text-anchor="start" fill="#111" stroke="#111" stroke-width="0.2" textLength="57.8" lengthAdjust="spacingAndGlyphs">% of T-cells CD22 CAR+ (PB)</text>
</g>
<line x1="60.00" y1="369.60" x2="89.50" y2="369.60" stroke="#777" stroke-width="1.1"/>
<circle cx="73.10" cy="312.40" r="1.7" fill="#17a22c"/>
<circle cx="77.30" cy="312.40" r="1.7" fill="#17a22c"/>
<circle cx="77.30" cy="323.00" r="1.7" fill="#17a22c"/>
<circle cx="73.10" cy="325.50" r="1.7" fill="#17a22c"/>
<circle cx="77.30" cy="328.40" r="1.7" fill="#17a22c"/>
<circle cx="75.20" cy="336.60" r="1.7" fill="#17a22c"/>
<circle cx="77.30" cy="340.30" r="1.7" fill="#17a22c"/>
<circle cx="81.20" cy="341.40" r="1.7" fill="#17a22c"/>
<circle cx="73.10" cy="343.70" r="1.7" fill="#17a22c"/>
<circle cx="77.30" cy="343.80" r="1.7" fill="#17a22c"/>
<circle cx="75.20" cy="347.60" r="1.7" fill="#17a22c"/>
<circle cx="75.20" cy="353.40" r="1.7" fill="#17a22c"/>
<circle cx="77.30" cy="356.60" r="1.7" fill="#17a22c"/>
<circle cx="81.20" cy="357.70" r="1.7" fill="#17a22c"/>
<circle cx="65.40" cy="360.50" r="1.7" fill="#17a22c"/>
<circle cx="73.20" cy="361.20" r="1.7" fill="#17a22c"/>
<circle cx="77.30" cy="360.50" r="1.7" fill="#17a22c"/>
<circle cx="69.30" cy="363.60" r="1.7" fill="#17a22c"/>
<circle cx="81.20" cy="363.60" r="1.7" fill="#17a22c"/>
<circle cx="85.10" cy="363.10" r="1.7" fill="#17a22c"/>
<circle cx="73.20" cy="366.30" r="1.7" fill="#17a22c"/>
<circle cx="77.30" cy="366.30" r="1.7" fill="#17a22c"/>
<circle cx="65.40" cy="369.40" r="1.7" fill="#17a22c"/>
<circle cx="69.30" cy="369.80" r="1.7" fill="#17a22c"/>
<circle cx="81.00" cy="369.40" r="1.7" fill="#17a22c"/>
<circle cx="85.10" cy="369.00" r="1.7" fill="#17a22c"/>
<circle cx="89.20" cy="368.80" r="1.7" fill="#17a22c"/>
<circle cx="65.40" cy="373.10" r="1.7" fill="#17a22c"/>
<circle cx="73.20" cy="372.60" r="1.7" fill="#17a22c"/>
<circle cx="77.30" cy="371.30" r="1.7" fill="#17a22c"/>
<circle cx="61.50" cy="377.60" r="1.7" fill="#17a22c"/>
<circle cx="65.40" cy="377.40" r="1.7" fill="#17a22c"/>
<circle cx="69.30" cy="378.30" r="1.7" fill="#17a22c"/>
<circle cx="73.20" cy="377.60" r="1.7" fill="#17a22c"/>
<circle cx="77.30" cy="375.80" r="1.7" fill="#17a22c"/>
<circle cx="81.00" cy="375.70" r="1.7" fill="#17a22c"/>
<circle cx="85.10" cy="377.60" r="1.7" fill="#17a22c"/>
<circle cx="89.20" cy="374.10" r="1.7" fill="#17a22c"/>
<circle cx="89.20" cy="377.80" r="1.7" fill="#17a22c"/>
<circle cx="65.40" cy="382.60" r="1.7" fill="#17a22c"/>
<circle cx="69.30" cy="381.90" r="1.7" fill="#17a22c"/>
<circle cx="77.30" cy="382.50" r="1.7" fill="#17a22c"/>
<circle cx="81.00" cy="380.20" r="1.7" fill="#17a22c"/>
<circle cx="81.00" cy="383.60" r="1.7" fill="#17a22c"/>
<circle cx="85.10" cy="381.00" r="1.7" fill="#17a22c"/>
<circle cx="69.30" cy="386.20" r="1.7" fill="#17a22c"/>
<circle cx="73.20" cy="385.50" r="1.7" fill="#17a22c"/>
<circle cx="77.30" cy="389.30" r="1.7" fill="#17a22c"/>
<circle cx="81.00" cy="388.00" r="1.7" fill="#17a22c"/>
<circle cx="69.30" cy="389.90" r="1.7" fill="#17a22c"/>
<line x1="122.00" y1="333.50" x2="153.00" y2="333.50" stroke="#666" stroke-width="1.15"/>
<polygon points="131.95,316.62 135.45,316.62 133.70,313.58" fill="#17a22c"/>
<polygon points="139.25,317.72 142.75,317.72 141.00,314.68" fill="#17a22c"/>
<polygon points="135.85,330.42 139.35,330.42 137.60,327.38" fill="#17a22c"/>
<polygon points="132.05,336.12 135.55,336.12 133.80,333.08" fill="#17a22c"/>
<polygon points="139.15,335.02 142.65,335.02 140.90,331.98" fill="#17a22c"/>
<polygon points="135.85,339.82 139.35,339.82 137.60,336.78" fill="#17a22c"/>
<polygon points="135.65,370.72 139.15,370.72 137.40,367.68" fill="#17a22c"/>
<text x="184.30" y="298.80" font-size="12.0" text-anchor="start" font-weight="bold" font-style="normal" fill="#000" stroke="#000" stroke-width="0.35" textLength="6.60" lengthAdjust="spacingAndGlyphs" >F</text>
<text x="280.10" y="299.00" font-size="6.4" text-anchor="middle" font-weight="normal" font-style="normal" fill="#111" stroke="#111" stroke-width="0.12" textLength="108.80" lengthAdjust="spacingAndGlyphs" >CD22 CAR T-cell persistence at 2 months</text>
<line x1="215.70" y1="301.20" x2="215.70" y2="390.40" stroke="#474747" stroke-width="1.1"/>
<line x1="213.60" y1="303.60" x2="215.70" y2="303.60" stroke="#474747" stroke-width="0.85"/>
<text x="211.50" y="305.70" font-size="5.9" text-anchor="end" font-weight="normal" font-style="normal" fill="#222" stroke="#222" stroke-width="0.08" textLength="8.86" lengthAdjust="spacingAndGlyphs" >100</text>
<line x1="213.60" y1="321.00" x2="215.70" y2="321.00" stroke="#474747" stroke-width="0.85"/>
<text x="211.50" y="323.10" font-size="5.9" text-anchor="end" font-weight="normal" font-style="normal" fill="#222" stroke="#222" stroke-width="0.08" textLength="5.91" lengthAdjust="spacingAndGlyphs" >80</text>
<line x1="213.60" y1="338.40" x2="215.70" y2="338.40" stroke="#474747" stroke-width="0.85"/>
<text x="211.50" y="340.50" font-size="5.9" text-anchor="end" font-weight="normal" font-style="normal" fill="#222" stroke="#222" stroke-width="0.08" textLength="5.91" lengthAdjust="spacingAndGlyphs" >60</text>
<line x1="213.60" y1="355.70" x2="215.70" y2="355.70" stroke="#474747" stroke-width="0.85"/>
<text x="211.50" y="357.80" font-size="5.9" text-anchor="end" font-weight="normal" font-style="normal" fill="#222" stroke="#222" stroke-width="0.08" textLength="5.91" lengthAdjust="spacingAndGlyphs" >40</text>
<line x1="213.60" y1="373.10" x2="215.70" y2="373.10" stroke="#474747" stroke-width="0.85"/>
<text x="211.50" y="375.20" font-size="5.9" text-anchor="end" font-weight="normal" font-style="normal" fill="#222" stroke="#222" stroke-width="0.08" textLength="5.91" lengthAdjust="spacingAndGlyphs" >20</text>
<line x1="213.60" y1="390.40" x2="215.70" y2="390.40" stroke="#474747" stroke-width="0.85"/>
<text x="211.50" y="392.50" font-size="5.9" text-anchor="end" font-weight="normal" font-style="normal" fill="#222" stroke="#222" stroke-width="0.08" textLength="2.95" lengthAdjust="spacingAndGlyphs" >0</text>
<line x1="215.20" y1="390.40" x2="345.20" y2="390.40" stroke="#646464" stroke-width="1.55"/>
<line x1="251.80" y1="390.40" x2="251.80" y2="392.20" stroke="#474747" stroke-width="0.8"/>
<text x="251.80" y="400.00" font-size="5.2" text-anchor="middle" font-weight="normal" font-style="normal" fill="#222" stroke="#222" stroke-width="0.03" >No EMD (CRS+)</text>
<line x1="309.30" y1="390.40" x2="309.30" y2="392.20" stroke="#474747" stroke-width="0.8"/>
<text x="309.30" y="400.00" font-size="5.2" text-anchor="middle" font-weight="normal" font-style="normal" fill="#222" stroke="#222" stroke-width="0.03" >Non-CNS EMD (CRS+)</text>
<g transform="translate(198.40,347.60) rotate(-90)">
<text x="-28.90" y="0" font-size="6.4" text-anchor="start" fill="#111" stroke="#111" stroke-width="0.2" textLength="57.8" lengthAdjust="spacingAndGlyphs">% of T-cells CD22 CAR+ (PB)</text>
</g>
<line x1="236.10" y1="384.30" x2="262.00" y2="384.30" stroke="#858585" stroke-width="1.1"/>
<circle cx="251.80" cy="351.70" r="1.7" fill="#17a22c"/>
<circle cx="251.80" cy="372.50" r="1.7" fill="#17a22c"/>
<circle cx="246.00" cy="378.30" r="1.7" fill="#17a22c"/>
<circle cx="249.90" cy="378.90" r="1.7" fill="#17a22c"/>
<circle cx="257.70" cy="381.40" r="1.7" fill="#17a22c"/>
<circle cx="246.00" cy="383.80" r="1.7" fill="#17a22c"/>
<circle cx="249.90" cy="383.80" r="1.7" fill="#17a22c"/>
<circle cx="253.80" cy="383.20" r="1.7" fill="#17a22c"/>
<circle cx="261.70" cy="384.40" r="1.7" fill="#17a22c"/>
<circle cx="265.70" cy="383.80" r="1.7" fill="#17a22c"/>
<circle cx="238.00" cy="386.70" r="1.7" fill="#17a22c"/>
<circle cx="242.00" cy="386.30" r="1.7" fill="#17a22c"/>
<circle cx="246.00" cy="387.90" r="1.7" fill="#17a22c"/>
<circle cx="253.80" cy="388.10" r="1.7" fill="#17a22c"/>
<circle cx="257.70" cy="386.30" r="1.7" fill="#17a22c"/>
<circle cx="261.70" cy="388.40" r="1.7" fill="#17a22c"/>
<circle cx="242.00" cy="390.20" r="1.7" fill="#17a22c"/>
<circle cx="249.90" cy="389.80" r="1.7" fill="#17a22c"/>
<circle cx="257.70" cy="390.20" r="1.7" fill="#17a22c"/>
<line x1="294.00" y1="381.30" x2="325.00" y2="381.30" stroke="#6c6c6c" stroke-width="1.2"/>
<polygon points="307.55,315.72 311.05,315.72 309.30,312.68" fill="#17a22c"/>
<polygon points="307.55,351.62 311.05,351.62 309.30,348.58" fill="#17a22c"/>
<polygon points="307.75,382.82 311.25,382.82 309.50,379.78" fill="#17a22c"/>
<polygon points="307.75,386.82 311.25,386.82 309.50,383.78" fill="#17a22c"/>
<polygon points="307.55,391.52 311.05,391.52 309.30,388.48" fill="#17a22c"/>
<text x="353.40" y="298.90" font-size="12.0" text-anchor="start" font-weight="bold" font-style="normal" fill="#000" stroke="#000" stroke-width="0.35" textLength="8.40" lengthAdjust="spacingAndGlyphs" >G</text>
<text x="443.80" y="299.00" font-size="6.4" text-anchor="middle" font-weight="normal" font-style="normal" fill="#111" stroke="#111" stroke-width="0.12" textLength="107.60" lengthAdjust="spacingAndGlyphs" >CD22 CAR T-cell persistence at 3 months</text>
<line x1="376.70" y1="301.20" x2="376.70" y2="390.80" stroke="#474747" stroke-width="1.1"/>
<line x1="374.60" y1="303.90" x2="376.70" y2="303.90" stroke="#474747" stroke-width="0.85"/>
<text x="372.50" y="306.00" font-size="5.9" text-anchor="end" font-weight="normal" font-style="normal" fill="#222" stroke="#222" stroke-width="0.08" textLength="5.91" lengthAdjust="spacingAndGlyphs" >50</text>
<line x1="374.60" y1="321.30" x2="376.70" y2="321.30" stroke="#474747" stroke-width="0.85"/>
<text x="372.50" y="323.40" font-size="5.9" text-anchor="end" font-weight="normal" font-style="normal" fill="#222" stroke="#222" stroke-width="0.08" textLength="5.91" lengthAdjust="spacingAndGlyphs" >40</text>
<line x1="374.60" y1="338.70" x2="376.70" y2="338.70" stroke="#474747" stroke-width="0.85"/>
<text x="372.50" y="340.80" font-size="5.9" text-anchor="end" font-weight="normal" font-style="normal" fill="#222" stroke="#222" stroke-width="0.08" textLength="5.91" lengthAdjust="spacingAndGlyphs" >30</text>
<line x1="374.60" y1="356.10" x2="376.70" y2="356.10" stroke="#474747" stroke-width="0.85"/>
<text x="372.50" y="358.20" font-size="5.9" text-anchor="end" font-weight="normal" font-style="normal" fill="#222" stroke="#222" stroke-width="0.08" textLength="5.91" lengthAdjust="spacingAndGlyphs" >20</text>
<line x1="374.60" y1="373.40" x2="376.70" y2="373.40" stroke="#474747" stroke-width="0.85"/>
<text x="372.50" y="375.50" font-size="5.9" text-anchor="end" font-weight="normal" font-style="normal" fill="#222" stroke="#222" stroke-width="0.08" textLength="5.91" lengthAdjust="spacingAndGlyphs" >10</text>
<line x1="374.60" y1="390.80" x2="376.70" y2="390.80" stroke="#474747" stroke-width="0.85"/>
<text x="372.50" y="392.90" font-size="5.9" text-anchor="end" font-weight="normal" font-style="normal" fill="#222" stroke="#222" stroke-width="0.08" textLength="2.95" lengthAdjust="spacingAndGlyphs" >0</text>
<line x1="376.20" y1="390.80" x2="515.00" y2="390.80" stroke="#646464" stroke-width="1.55"/>
<line x1="411.40" y1="390.80" x2="411.40" y2="392.60" stroke="#474747" stroke-width="0.8"/>
<text x="411.40" y="400.30" font-size="5.2" text-anchor="middle" font-weight="normal" font-style="normal" fill="#222" stroke="#222" stroke-width="0.03" >No EMD (CRS+)</text>
<line x1="483.50" y1="390.80" x2="483.50" y2="392.60" stroke="#474747" stroke-width="0.8"/>
<text x="483.50" y="400.30" font-size="5.2" text-anchor="middle" font-weight="normal" font-style="normal" fill="#222" stroke="#222" stroke-width="0.03" >Non-CNS EMD (CRS+)</text>
<g transform="translate(362.40,348.40) rotate(-90)">
<text x="-28.50" y="0" font-size="6.4" text-anchor="start" fill="#111" stroke="#111" stroke-width="0.2" textLength="57.0" lengthAdjust="spacingAndGlyphs">% of T-cells CD22 CAR+ (PB)</text>
</g>
<line x1="396.50" y1="385.90" x2="426.80" y2="385.90" stroke="#8a8a8a" stroke-width="1.1"/>
<circle cx="411.70" cy="319.20" r="1.35" fill="#17a22c"/>
<circle cx="411.70" cy="333.30" r="1.35" fill="#17a22c"/>
<circle cx="411.70" cy="358.70" r="1.35" fill="#17a22c"/>
<circle cx="411.70" cy="369.20" r="1.35" fill="#17a22c"/>
<circle cx="397.60" cy="386.20" r="1.35" fill="#17a22c"/>
<circle cx="401.10" cy="385.40" r="1.35" fill="#17a22c"/>
<circle cx="404.50" cy="385.40" r="1.35" fill="#17a22c"/>
<circle cx="408.00" cy="384.60" r="1.35" fill="#17a22c"/>
<circle cx="411.50" cy="386.90" r="1.35" fill="#17a22c"/>
<circle cx="414.90" cy="386.50" r="1.35" fill="#17a22c"/>
<circle cx="418.40" cy="387.20" r="1.35" fill="#17a22c"/>
<circle cx="421.80" cy="385.00" r="1.35" fill="#17a22c"/>
<circle cx="401.10" cy="389.00" r="1.35" fill="#17a22c"/>
<circle cx="408.00" cy="388.10" r="1.35" fill="#17a22c"/>
<circle cx="414.90" cy="390.20" r="1.35" fill="#17a22c"/>
<circle cx="421.80" cy="389.50" r="1.35" fill="#17a22c"/>
<line x1="468.10" y1="384.50" x2="498.80" y2="384.50" stroke="#6a6a6a" stroke-width="1.15"/>
<polygon points="482.10,351.02 484.90,351.02 483.50,348.58" fill="#17a22c"/>
<polygon points="478.60,385.22 481.40,385.22 480.00,382.78" fill="#17a22c"/>
<polygon points="485.70,387.12 488.50,387.12 487.10,384.68" fill="#17a22c"/>
<polygon points="482.10,391.52 484.90,391.52 483.50,389.08" fill="#17a22c"/>
<rect x="24.20" y="408.50" width="147.90" height="30.40" fill="none" stroke="#333" stroke-width="0.9"/>
<line x1="24.20" y1="419.40" x2="172.10" y2="419.40" stroke="#333" stroke-width="0.9"/>
<line x1="24.20" y1="429.40" x2="153.50" y2="429.40" stroke="#333" stroke-width="0.9"/>
<line x1="69.20" y1="408.50" x2="69.20" y2="438.90" stroke="#333" stroke-width="0.9"/>
<line x1="78.60" y1="408.50" x2="78.60" y2="438.90" stroke="#333" stroke-width="0.9"/>
<line x1="153.50" y1="408.50" x2="153.50" y2="438.90" stroke="#333" stroke-width="0.9"/>
<text x="73.90" y="415.65" font-size="4.75" text-anchor="middle" font-weight="bold" font-style="normal" fill="#111" stroke="#111" stroke-width="0.08" >n</text>
<text x="116.05" y="415.65" font-size="4.95" text-anchor="middle" font-weight="bold" font-style="normal" fill="#111" stroke="#111" stroke-width="0.08" >Median % CD22 CAR+ (range)</text>
<text x="162.80" y="415.65" font-size="5.3" text-anchor="middle" font-weight="bold" font-style="normal" fill="#111" stroke="#111" stroke-width="0.08" >p</text>
<circle cx="30.70" cy="424.40" r="1.75" fill="#17a22c"/>
<polygon points="28.80,435.70 32.60,435.70 30.70,432.40" fill="#17a22c"/>
<text x="34.50" y="426.10" font-size="4.75" text-anchor="start" font-weight="normal" font-style="normal" fill="#222" stroke="#222" stroke-width="0.08" >No EMD</text>
<text x="34.50" y="435.85" font-size="4.75" text-anchor="start" font-weight="normal" font-style="normal" fill="#222" stroke="#222" stroke-width="0.08" >Non-CNS EMD</text>
<text x="73.90" y="426.10" font-size="4.75" text-anchor="middle" font-weight="normal" font-style="normal" fill="#222" stroke="#222" stroke-width="0.08" >50</text>
<text x="73.90" y="435.85" font-size="4.75" text-anchor="middle" font-weight="normal" font-style="normal" fill="#222" stroke="#222" stroke-width="0.08" >7</text>
<text x="116.05" y="426.10" font-size="4.75" text-anchor="middle" font-weight="normal" font-style="normal" fill="#222" stroke="#222" stroke-width="0.08" >24.2 (1.0–90.4)</text>
<text x="116.05" y="435.85" font-size="4.75" text-anchor="middle" font-weight="normal" font-style="normal" fill="#222" stroke="#222" stroke-width="0.08" >66.0 (25.0–87.0)</text>
<text x="162.80" y="430.85" font-size="4.75" text-anchor="middle" font-weight="normal" font-style="normal" fill="#222" stroke="#222" stroke-width="0.08" >.001</text>
<rect x="198.40" y="408.40" width="147.20" height="30.70" fill="none" stroke="#333" stroke-width="0.9"/>
<line x1="198.40" y1="419.60" x2="345.60" y2="419.60" stroke="#333" stroke-width="0.9"/>
<line x1="198.40" y1="429.60" x2="326.50" y2="429.60" stroke="#333" stroke-width="0.9"/>
<line x1="242.40" y1="408.40" x2="242.40" y2="439.10" stroke="#333" stroke-width="0.9"/>
<line x1="252.80" y1="408.40" x2="252.80" y2="439.10" stroke="#333" stroke-width="0.9"/>
<line x1="326.50" y1="408.40" x2="326.50" y2="439.10" stroke="#333" stroke-width="0.9"/>
<text x="247.60" y="415.70" font-size="4.75" text-anchor="middle" font-weight="bold" font-style="normal" fill="#111" stroke="#111" stroke-width="0.08" >n</text>
<text x="289.65" y="415.70" font-size="4.95" text-anchor="middle" font-weight="bold" font-style="normal" fill="#111" stroke="#111" stroke-width="0.08" >Median % CD22 CAR+ (range)</text>
<text x="336.05" y="415.70" font-size="5.3" text-anchor="middle" font-weight="bold" font-style="normal" fill="#111" stroke="#111" stroke-width="0.08" >p</text>
<circle cx="204.90" cy="424.60" r="1.75" fill="#17a22c"/>
<polygon points="203.00,435.90 206.80,435.90 204.90,432.60" fill="#17a22c"/>
<text x="208.70" y="426.30" font-size="4.75" text-anchor="start" font-weight="normal" font-style="normal" fill="#222" stroke="#222" stroke-width="0.08" >No EMD</text>
<text x="208.70" y="436.05" font-size="4.75" text-anchor="start" font-weight="normal" font-style="normal" fill="#222" stroke="#222" stroke-width="0.08" >Non-CNS EMD</text>
<text x="247.60" y="426.30" font-size="4.75" text-anchor="middle" font-weight="normal" font-style="normal" fill="#222" stroke="#222" stroke-width="0.08" >19</text>
<text x="247.60" y="436.05" font-size="4.75" text-anchor="middle" font-weight="normal" font-style="normal" fill="#222" stroke="#222" stroke-width="0.08" >5</text>
<text x="289.65" y="426.30" font-size="4.75" text-anchor="middle" font-weight="normal" font-style="normal" fill="#222" stroke="#222" stroke-width="0.08" >7.0 (0.20–45.0)</text>
<text x="289.65" y="436.05" font-size="4.75" text-anchor="middle" font-weight="normal" font-style="normal" fill="#222" stroke="#222" stroke-width="0.08" >11.0 (1.0–88.4)</text>
<text x="336.05" y="431.05" font-size="4.75" text-anchor="middle" font-weight="normal" font-style="normal" fill="#222" stroke="#222" stroke-width="0.08" >.24</text>
<rect x="368.50" y="408.40" width="146.10" height="30.60" fill="none" stroke="#333" stroke-width="0.9"/>
<line x1="368.50" y1="419.40" x2="514.60" y2="419.40" stroke="#333" stroke-width="0.9"/>
<line x1="368.50" y1="429.50" x2="495.60" y2="429.50" stroke="#333" stroke-width="0.9"/>
<line x1="412.30" y1="408.40" x2="412.30" y2="439.00" stroke="#333" stroke-width="0.9"/>
<line x1="422.30" y1="408.40" x2="422.30" y2="439.00" stroke="#333" stroke-width="0.9"/>
<line x1="495.60" y1="408.40" x2="495.60" y2="439.00" stroke="#333" stroke-width="0.9"/>
<text x="417.30" y="415.60" font-size="4.75" text-anchor="middle" font-weight="bold" font-style="normal" fill="#111" stroke="#111" stroke-width="0.08" >n</text>
<text x="458.95" y="415.60" font-size="4.95" text-anchor="middle" font-weight="bold" font-style="normal" fill="#111" stroke="#111" stroke-width="0.08" >Median % CD22 CAR+ (range)</text>
<text x="505.10" y="415.60" font-size="5.3" text-anchor="middle" font-weight="bold" font-style="normal" fill="#111" stroke="#111" stroke-width="0.08" >p</text>
<circle cx="375.00" cy="424.45" r="1.75" fill="#17a22c"/>
<polygon points="373.10,435.80 376.90,435.80 375.00,432.50" fill="#17a22c"/>
<text x="378.80" y="426.15" font-size="4.75" text-anchor="start" font-weight="normal" font-style="normal" fill="#222" stroke="#222" stroke-width="0.08" >No EMD</text>
<text x="378.80" y="435.95" font-size="4.75" text-anchor="start" font-weight="normal" font-style="normal" fill="#222" stroke="#222" stroke-width="0.08" >Non-CNS EMD</text>
<text x="417.30" y="426.15" font-size="4.75" text-anchor="middle" font-weight="normal" font-style="normal" fill="#222" stroke="#222" stroke-width="0.08" >16</text>
<text x="417.30" y="435.95" font-size="4.75" text-anchor="middle" font-weight="normal" font-style="normal" fill="#222" stroke="#222" stroke-width="0.08" >4</text>
<text x="458.95" y="426.15" font-size="4.75" text-anchor="middle" font-weight="normal" font-style="normal" fill="#222" stroke="#222" stroke-width="0.08" >2.85 (0.23–41.0)</text>
<text x="458.95" y="435.95" font-size="4.75" text-anchor="middle" font-weight="normal" font-style="normal" fill="#222" stroke="#222" stroke-width="0.08" >3.50 (0.50–23.8)</text>
<text x="505.10" y="430.90" font-size="4.75" text-anchor="middle" font-weight="normal" font-style="normal" fill="#222" stroke="#222" stroke-width="0.08" >.75</text>
<rect x="0.5" y="0.5" width="519" height="444" fill="none" stroke="#000" stroke-width="1"/>
</svg>
</body></html>
